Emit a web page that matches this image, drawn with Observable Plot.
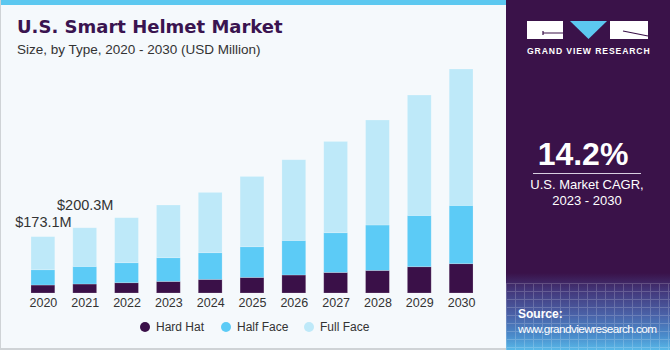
<!DOCTYPE html>
<html>
<head>
<meta charset="utf-8">
<script src="https://cdn.jsdelivr.net/npm/d3@7"></script>
<script src="https://cdn.jsdelivr.net/npm/@observablehq/plot@0.6"></script>
<style>
  html, body { margin: 0; padding: 0; }
  body { width: 670px; height: 350px; overflow: hidden; font-family: "Liberation Sans", Arial, sans-serif; }
  #wrap { position: relative; width: 670px; height: 350px; background: #f5f9fc; }
  #leftborder { position: absolute; left: 0; top: 0; width: 506px; height: 350px; box-sizing: border-box; border-left: 1px solid #cfd3d6; border-bottom: 2px solid #cfd3d6; }
  #stripe { position: absolute; left: 0; top: 0; width: 506px; height: 5px; background: #5cc8f0; }
  #title { position: absolute; left: 17px; top: 16px; font-family: "DejaVu Sans", sans-serif; font-weight: bold; font-size: 18px; color: #3a1450; white-space: nowrap; }
  #subtitle { position: absolute; left: 17px; top: 42px; font-size: 13.5px; color: #333; white-space: nowrap; }
  #chart { position: absolute; left: 0; top: 0; }
  #legend { position: absolute; top: 319px; left: 0; width: 506px; font-size: 12px; color: #333; }
  .li { position: absolute; top: 0; white-space: nowrap; line-height: 16px; }
  .dot { display: inline-block; width: 10px; height: 10px; border-radius: 50%; vertical-align: -1px; margin-right: 6px; }
  #panel { position: absolute; left: 506px; top: 0; width: 164px; height: 350px;
    background: linear-gradient(to bottom, #3a1249 0%, #3a1249 78%, #43377a 83%, #4a62a8 90%, #4a8ccb 96%, #58b8e8 100%); overflow: hidden; }
  #grid { position: absolute; left: 0; top: 283px; width: 164px; height: 67px; opacity: 0.18;
    background-image: repeating-linear-gradient(to right, #fff 0 1px, transparent 1px 9px), repeating-linear-gradient(to bottom, #fff 0 1px, transparent 1px 8px); }
  #logo { position: absolute; left: 21px; top: 21px; }
  #gvr { position: absolute; left: 21px; top: 46px; width: 122px; text-align: center; color: #fff; font-weight: bold; font-size: 8.6px; letter-spacing: 0.9px; white-space: nowrap; }
  #cagr { position: absolute; left: 0; top: 136px; width: 154px; text-align: center; color: #fff; font-weight: bold; font-size: 32px; line-height: 36px; }
  #rule { position: absolute; left: 27px; top: 173px; width: 108px; height: 1px; background: #d8cfe0; }
  #cagrtxt { position: absolute; left: 0; top: 177px; width: 162px; text-align: center; color: #fff; font-size: 13px; line-height: 16px; }
  #src { position: absolute; left: 12px; top: 307px; color: #fff; font-size: 11.8px; letter-spacing: -0.6px; line-height: 15px; white-space: nowrap; }
  #src b { letter-spacing: 0; font-size: 12px; }
</style>
</head>
<body>
<div id="wrap">
  <div id="stripe"></div>
  <div id="title">U.S. Smart Helmet Market</div>
  <div id="subtitle">Size, by Type, 2020 - 2030 (USD Million)</div>
  <div id="chart"></div>
  <div id="legend"></div>
  <div id="leftborder"></div>
  <div id="panel">
    <div id="grid"></div>
    <svg id="logo" width="122" height="19" viewBox="0 0 122 19">
      <rect x="0" y="0" width="36" height="18" fill="#fff"/>
      <path d="M16 12 H36 M16 10 V14" stroke="#3a1249" stroke-width="1.2" fill="none"/>
      <polygon points="43,0 80,0 61.5,18" fill="#5cc8f0"/>
      <rect x="83" y="0" width="38" height="18" fill="#fff"/>
      <path d="M96 10 L121 15" stroke="#3a1249" stroke-width="1.2" fill="none"/>
    </svg>
    <div id="gvr">GRAND VIEW RESEARCH</div>
    <div id="cagr">14.2%</div>
    <div id="rule"></div>
    <div id="cagrtxt">U.S. Market CAGR,<br>2023 - 2030</div>
    <div id="src"><b>Source:</b><br>www.grandviewresearch.com</div>
  </div>
</div>
<script>
const years = ["2020","2021","2022","2023","2024","2025","2026","2027","2028","2029","2030"];
const types = ["Hard Hat", "Half Face", "Full Face"];
const colors = ["#3a1048", "#5ccbf6", "#bee9f9"];
const hardHat  = [24.5, 27.6, 31.6, 35.6, 41.8, 47.9, 55.3, 63.2, 69.4, 80.7, 90.0];
const halfFace = [47.0, 54.0, 61.4, 72.8, 82.0, 94.2, 106.2, 121.9, 139.4, 157.5, 179.0];
const fullFace = [101.6, 118.7, 138.2, 161.8, 185.1, 215.8, 247.7, 280.3, 322.4, 369.6, 418.7];
const labelYears = ["2020", "2021"];
const labelTexts = ["$173.1M", "$200.3M"];

const series = [hardHat, halfFace, fullFace];
const data = [];
years.forEach((y, i) => types.forEach((t, j) => data.push({year: y, type: t, value: series[j][i]})));
const totals = years.map((y, i) => ({year: y, total: hardHat[i] + halfFace[i] + fullFace[i]}));
const labels = labelYears.map((y, k) => ({year: y, total: totals[years.indexOf(y)].total, text: labelTexts[k]}));

const chart = Plot.plot({
  width: 506,
  height: 350,
  marginTop: 65,
  marginBottom: 57,
  marginLeft: 13,
  marginRight: 15,
  style: {background: "transparent", fontFamily: "'Liberation Sans', Arial, sans-serif", color: "#333"},
  x: {domain: years, padding: 0.43, round: false, label: null, tickSize: 0, tickPadding: 5},
  y: {domain: [0, 700], axis: null},
  color: {domain: types, range: colors},
  marks: [
    Plot.barY(data, {x: "year", y: "value", fill: "type", stroke: "#ffffff", strokeOpacity: 0.25, strokeWidth: 0.8}),
    Plot.axisX({tickSize: 0, tickPadding: 5, fontSize: 12.5, fill: "#333", label: null}),
    Plot.text(labels.filter(d => d.year === "2020"), {x: "year", y: "total", text: "text", lineAnchor: "bottom", dy: -10, fontSize: 14.5, fill: "#333"}),
    Plot.text(labels.filter(d => d.year === "2021"), {x: "year", y: "total", text: "text", lineAnchor: "bottom", dy: -18, fontSize: 14.5, fill: "#333"})
  ]
});
document.getElementById("chart").appendChild(chart);

const legend = document.getElementById("legend");
const legendX = [140, 221, 304];
types.forEach((t, j) => {
  const el = document.createElement("div");
  el.className = "li";
  el.style.left = legendX[j] + "px";
  el.innerHTML = `<span class="dot" style="background:${colors[j]}"></span>${t}`;
  legend.appendChild(el);
});
</script>
</body>
</html>
